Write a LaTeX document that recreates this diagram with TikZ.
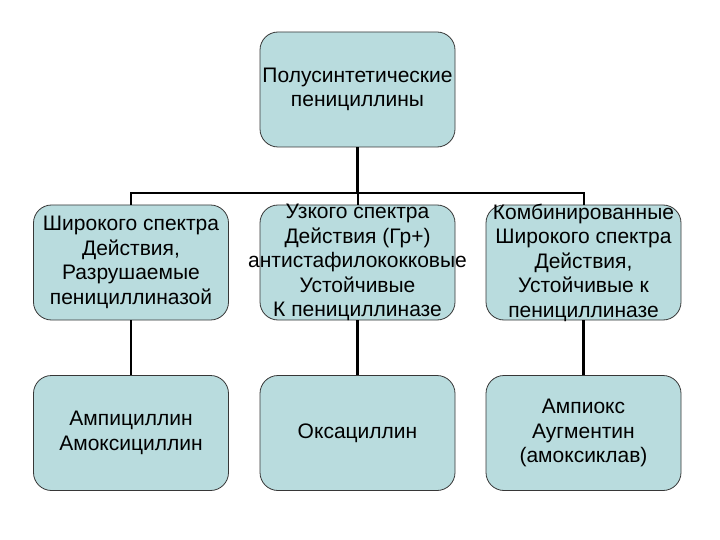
\documentclass[tikz,border=0pt]{standalone}
\usepackage{fontspec}
\setmainfont{Liberation Sans}
\usetikzlibrary{positioning}
\definecolor{cardfill}{RGB}{185,220,222}
\definecolor{cardline}{RGB}{55,55,55}
\begin{document}
\begin{tikzpicture}[x=1pt,y=-1pt,
    card/.style={draw=cardline, fill=cardfill, rounded corners=18pt, minimum width=195pt, minimum height=115pt, inner sep=0pt, line width=0.8pt},
    txt/.style={align=center, font=\fontsize{21}{24.5}\selectfont, inner sep=0pt},
    link/.style={line width=2pt, black},
    stem/.style={line width=2.8pt, black}
]
\useasboundingbox (0,0) rectangle (720,540);

% boxes
\node[card] (top) at (357.5,89.5) {};
\node[card] (l1) at (131,262.5) {};
\node[card] (m1) at (357.5,262.5) {};
\node[card] (r1) at (583.5,262.5) {};
\node[card] (l2) at (131,433) {};
\node[card] (m2) at (357.5,433) {};
\node[card] (r2) at (583.5,433) {};

% texts
\node[txt] (topt) at (top) {Полусинтетические\\пенициллины};
\node[txt] (l1t) at (l1) {Широкого спектра\\Действия,\\Разрушаемые\\пенициллиназой};
\node[txt] (m1t) at (m1) {Узкого спектра\\Действия (Гр+)\\антистафилококковые\\Устойчивые\\К пенициллиназе};
\node[txt] (r1t) at (r1) {Комбинированные\\Широкого спектра\\Действия,\\Устойчивые к\\пенициллиназе};
\node[txt] (l2t) at (l2) {Ампициллин\\Амоксициллин};
\node[txt] (m2t) at (m2) {Оксациллин};
\node[txt] (r2t) at (r2) {Ампиокс\\Аугментин\\(амоксиклав)};

% connectors
\coordinate (bus) at (357.5,193);
\draw[stem] (top.south) -- (bus);
\draw[link] (l1.north) |- (bus) -| (r1.north);
\draw[link] (bus) -- (m1.north);
\draw[stem] (l1.south) -- (l2.north);
\draw[stem] (m1.south) -- (m2.north);
\draw[stem] (r1.south) -- (r2.north);
\end{tikzpicture}
\end{document}
